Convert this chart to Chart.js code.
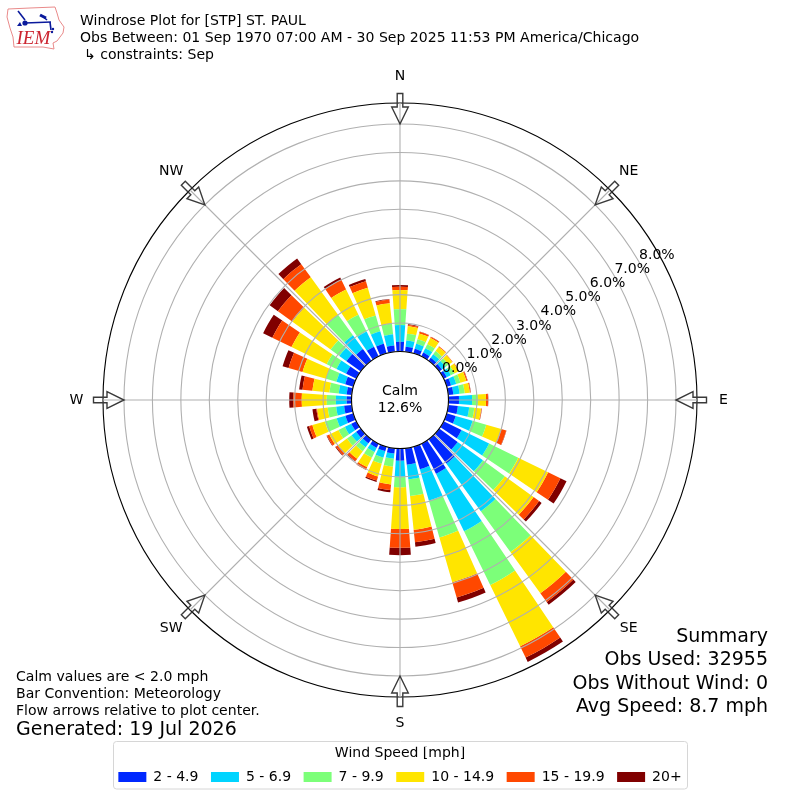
<!DOCTYPE html>
<html>
<head>
<meta charset="utf-8">
<title>Windrose Plot</title>
<style>html,body{margin:0;padding:0;background:#fff}canvas{display:block}</style>
<script src="https://cdn.jsdelivr.net/npm/chart.js@4/dist/chart.umd.js"></script>
</head>
<body>
<canvas id="c" width="800" height="800"></canvas>
<script>
// Direction of each bar (degrees clockwise from north)
const directions = [0,10,20,30,40,50,60,70,80,90,100,110,120,130,140,150,160,170,180,190,200,210,220,230,240,250,260,270,280,290,300,310,320,330,340,350];
const compass = ['N','NE','E','SE','S','SW','W','NW'];
const speedBins = ['2 - 4.9','5 - 6.9','7 - 9.9','10 - 14.9','15 - 19.9','20+'];
const binColors = ['#0028ff','#00d4ff','#7cff79','#ffe500','#ff4800','#800000'];
const rTicks = [0,1,2,3,4,5,6,7,8];

// Percent frequency per direction for each speed bin
const bin2to5   = [.34,.18,.17,.15,.13,.12,.12,.16,.18,.37,.34,.33,.70,.80,1.06,1.18,.83,.58,.43,.19,.17,.16,.18,.20,.20,.29,.27,.17,.18,.30,.40,.62,.51,.38,.35,.22];
const bin5to7   = [.59,.22,.18,.17,.15,.15,.16,.19,.22,.46,.40,.62,1.08,1.10,2.07,2.25,1.14,.52,.56,.18,.23,.17,.17,.20,.25,.32,.28,.38,.28,.32,.38,.31,.60,.59,.46,.40];
const bin7to10  = [.56,.24,.17,.16,.14,.13,.14,.15,.18,.21,.18,.50,1.14,.95,1.77,2.10,1.35,.59,.37,.28,.22,.22,.17,.20,.25,.43,.30,.32,.33,.38,.38,.38,.89,.66,.58,.38];
const bin10to15 = [.67,.26,.21,.24,.18,.16,.16,.22,.18,.28,.24,.55,1.17,1.25,1.79,2.40,1.64,1.19,1.47,.63,.47,.37,.33,.38,.36,.46,.37,.88,.60,.86,1.38,1.66,1.63,.99,1.01,.72];
const bin15to20 = [.12,.05,.06,.04,.03,.02,.02,.04,.03,.07,.02,.18,.48,.24,.38,.44,.56,.44,.66,.20,.15,.10,.10,.10,.09,.12,.03,.30,.35,.51,.75,.63,.57,.38,.24,.13];
const bin20plus = [.06,.02,.01,.01,0,0,0,.01,.01,.01,.01,.01,.24,.11,.12,.17,.18,.16,.26,.08,.05,.01,.02,.03,.02,.08,.14,.14,.12,.22,.36,.36,.25,.09,.08,.02];
const binValues = [bin2to5,bin5to7,bin7to10,bin10to15,bin15to20,bin20plus];

const titleLines = ['Windrose Plot for [STP] ST. PAUL','Obs Between: 01 Sep 1970 07:00 AM - 30 Sep 2025 11:53 PM America/Chicago','\u21B3 constraints: Sep'];
const summaryLines = ['Summary','Obs Used: 32955','Obs Without Wind: 0','Avg Speed: 8.7 mph'];
const noteLines = ['Calm values are < 2.0 mph','Bar Convention: Meteorology','Flow arrows relative to plot center.'];
const generated = 'Generated: 19 Jul 2026';
const calmLines = ['Calm','12.6%'];

const R_MIN = -1.705, R_MAX = 8.738, BAR_DEG = 8;
const FONT = '"DejaVu Sans"';

class WindRoseController extends Chart.PolarAreaController {
  static id = 'windRose';
  updateElements(arcs, start, count, mode) {
    const scale = this._cachedMeta.rScale;
    const sets = this.chart.data.datasets;
    for (let i = start; i < start + count; i++) {
      let base = 0;
      for (let d = 0; d < this.index; d++) base += sets[d].data[i];
      const top = base + sets[this.index].data[i];
      const mid = (directions[i] - 90) * Math.PI / 180;
      const half = BAR_DEG / 2 * Math.PI / 180;
      this.updateElement(arcs[i], i, {
        x: scale.xCenter, y: scale.yCenter,
        innerRadius: scale.getDistanceFromCenterForValue(base),
        outerRadius: scale.getDistanceFromCenterForValue(top),
        startAngle: mid - half, endAngle: mid + half,
        options: this.resolveDataElementOptions(i, mode)
      }, mode);
    }
  }
}
Chart.register(WindRoseController);

function drawLogo(ctx) {
  ctx.save();
  ctx.strokeStyle = '#e98a8a'; ctx.lineWidth = 1;
  const o = [[8,9],[30,8],[55,7],[57,13],[59,20],[64,27],[63,33],[57,41],[53,43],[54,49],[43,47],[14,47],[13,37],[10,28],[7,17]];
  ctx.beginPath(); o.forEach((p,i)=> i?ctx.lineTo(p[0],p[1]):ctx.moveTo(p[0],p[1])); ctx.closePath(); ctx.stroke();
  ctx.strokeStyle = '#0a1a9c'; ctx.fillStyle = '#0a1a9c'; ctx.lineWidth = 1.6;
  const segs = [[25,23,51,22],[18,11,25,20],[41,15,47,20],[50,22,51,30]];
  segs.forEach(s=>{ctx.beginPath();ctx.moveTo(s[0],s[1]);ctx.lineTo(s[2],s[3]);ctx.stroke();});
  ctx.lineWidth = 3; ctx.beginPath(); ctx.moveTo(40,15); ctx.lineTo(46,18); ctx.stroke();
  ctx.beginPath(); ctx.arc(25,23,2.6,0,7); ctx.fill();
  ctx.beginPath(); ctx.moveTo(20,22); ctx.lineTo(17,26); ctx.lineTo(22,26); ctx.closePath(); ctx.fill();
  ctx.beginPath(); ctx.arc(53,29,1.2,0,7); ctx.fill();
  ctx.beginPath(); ctx.arc(52,32,1.2,0,7); ctx.fill();
  ctx.fillStyle = '#cc2530'; ctx.font = 'italic 19px "Liberation Serif"';
  ctx.textAlign = 'left'; ctx.textBaseline = 'alphabetic';
  ctx.fillText('IEM', 16.5, 44);
  ctx.restore();
}

function drawArrow(ctx, cx, cy, angle) {
  const P = [[-2.8,-306.5],[2.8,-306.5],[2.8,-293],[8.3,-293],[0,-276],[-8.3,-293],[-2.8,-293]];
  ctx.save(); ctx.translate(cx,cy); ctx.rotate(angle);
  ctx.beginPath(); P.forEach((p,i)=> i?ctx.lineTo(p[0],p[1]):ctx.moveTo(p[0],p[1])); ctx.closePath();
  ctx.strokeStyle = '#3a3a3a'; ctx.lineWidth = 1.4; ctx.stroke();
  ctx.restore();
}

const decorations = {
  id: 'decorations',
  afterDraw(chart) {
    const ctx = chart.ctx, s = chart.scales.r, cx = s.xCenter, cy = s.yCenter;
    ctx.save();
    // calm hole
    const r0 = s.getDistanceFromCenterForValue(0);
    ctx.beginPath(); ctx.arc(cx,cy,r0,0,Math.PI*2);
    ctx.fillStyle = '#fff'; ctx.fill();
    ctx.strokeStyle = '#000'; ctx.lineWidth = 1.1; ctx.stroke();
    ctx.fillStyle = '#000'; ctx.textAlign = 'center'; ctx.textBaseline = 'middle';
    ctx.font = '14.05px '+FONT;
    ctx.fillText(calmLines[0], cx, cy-9);
    ctx.fillText(calmLines[1], cx, cy+8);
    // radial tick labels along the 60 degree ray
    ctx.textAlign = 'left'; ctx.textBaseline = 'bottom';
    const a = 60*Math.PI/180;
    rTicks.forEach(v=>{
      const r = s.getDistanceFromCenterForValue(v);
      ctx.fillText(v.toFixed(1)+'%', cx+r*Math.sin(a), cy-r*Math.cos(a));
    });
    // compass labels and arrows
    ctx.textAlign = 'center'; ctx.textBaseline = 'middle';
    compass.forEach((c,i)=>{
      const ang = s.getIndexAngle(i);
      drawArrow(ctx,cx,cy,ang);
      const p = s.getPointPosition(i,323.5);
      ctx.fillStyle = '#000';
      ctx.fillText(c,p.x,p.y);
    });
    // header
    ctx.textAlign = 'left'; ctx.textBaseline = 'alphabetic';
    titleLines.forEach((t,i)=> ctx.fillText(t, i===2?84:80, 25+i*17));
    noteLines.forEach((t,i)=> ctx.fillText(t,16,681+i*17));
    ctx.font = '19px '+FONT;
    ctx.fillText(generated,16,735);
    ctx.textAlign = 'right';
    summaryLines.forEach((t,i)=> ctx.fillText(t,768,642+i*23.4));
    // legend frame
    ctx.strokeStyle = '#d6d6d6'; ctx.lineWidth = 1;
    ctx.beginPath(); ctx.roundRect(113.5,741.5,574,47.5,3); ctx.stroke();
    ctx.restore();
    drawLogo(ctx);
  }
};

new Chart(document.getElementById('c'), {
  type: 'windRose',
  data: {
    labels: compass,
    datasets: speedBins.map((label,i)=>({
      label, data: binValues[i], backgroundColor: binColors[i],
      borderWidth: 0, clip: false
    }))
  },
  options: {
    responsive: false,
    devicePixelRatio: 1,
    animation: false,
    layout: { padding: { bottom: 6 } },
    scales: {
      r: {
        min: R_MIN, max: R_MAX,
        afterSetDimensions(s){ s.xCenter = 400; s.yCenter = 400; s.drawingArea = 297; },
        afterBuildTicks(s){ s.ticks = rTicks.concat([R_MAX]).map(value=>({value})); },
        ticks: { display:false, callback: v=>v+'%' },
        grid: { circular:true, z:1, lineWidth:1.1,
          color: c=> c.tick && c.tick.value===R_MAX ? '#000' : '#b0b0b0' },
        angleLines: { display:true, color:'#b0b0b0', lineWidth:1.1 },
        pointLabels: { display:false }
      }
    },
    plugins: {
      tooltip: { enabled:false },
      legend: {
        display:true, position:'bottom',
        title: { display:true, text:'Wind Speed [mph]', color:'#000', padding:{top:0,bottom:-6}, font:{family:FONT,size:14} },
        labels: {
          boxWidth:28, boxHeight:10, padding:12.5, color:'#000',
          font:{family:FONT,size:14},
          generateLabels: chart=>chart.data.datasets.map((d,i)=>({
            text:d.label, fillStyle:d.backgroundColor, strokeStyle:d.backgroundColor, lineWidth:0, datasetIndex:i, hidden:false
          }))
        }
      }
    }
  },
  plugins: [decorations]
});
</script>
</body>
</html>
